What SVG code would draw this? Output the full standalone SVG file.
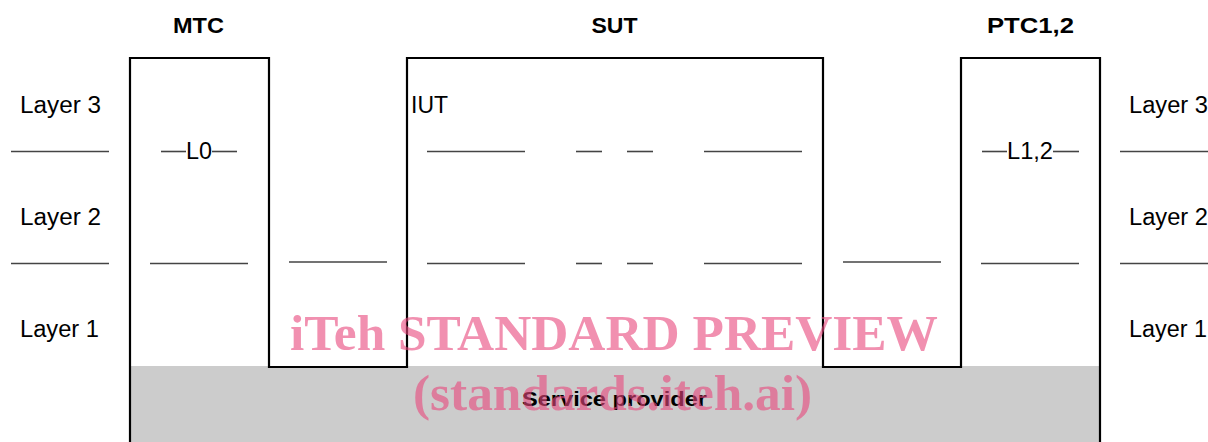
<svg xmlns="http://www.w3.org/2000/svg" width="1208" height="442" viewBox="0 0 1208 442">
<style>
.lbl{font-family:"Liberation Sans",Arial,sans-serif;font-size:23px;fill:#000}
.hdr{font-family:"Liberation Sans",Arial,sans-serif;font-size:22px;font-weight:bold;fill:#000;text-anchor:middle}
.sp{font-family:"Liberation Sans",Arial,sans-serif;font-size:20px;font-weight:bold;fill:#000;text-anchor:middle}
.dl{stroke:#444;stroke-width:1.6;fill:none}
.ol{stroke:#000;stroke-width:2.2;fill:none}
.wm{font-family:"Liberation Serif","Times New Roman",serif;font-weight:bold;fill:#e8467c;fill-opacity:0.6;text-anchor:middle}
</style>
<rect id="service-provider-area" x="130" y="366" width="970" height="76" fill="#cccccc"/>
<g id="profile">
<path class="ol" d="M130,442 V58 H269 V367 H407 V58 H823 V367 H961 V58 H1100 V442"/>
</g>
<g id="headers">
<text class="hdr" x="198.5" y="33" textLength="51" lengthAdjust="spacingAndGlyphs">MTC</text>
<text class="hdr" x="614.5" y="33" textLength="46" lengthAdjust="spacingAndGlyphs">SUT</text>
<text class="hdr" x="1030.5" y="33" textLength="87" lengthAdjust="spacingAndGlyphs">PTC1,2</text>
</g>
<g id="layer-labels">
<text class="lbl" x="20" y="113" textLength="81" lengthAdjust="spacingAndGlyphs">Layer 3</text>
<text class="lbl" x="20" y="225" textLength="81" lengthAdjust="spacingAndGlyphs">Layer 2</text>
<text class="lbl" x="20" y="337" textLength="79" lengthAdjust="spacingAndGlyphs">Layer 1</text>
<text class="lbl" x="1129" y="113" textLength="79" lengthAdjust="spacingAndGlyphs">Layer 3</text>
<text class="lbl" x="1129" y="225" textLength="79" lengthAdjust="spacingAndGlyphs">Layer 2</text>
<text class="lbl" x="1129" y="337" textLength="78" lengthAdjust="spacingAndGlyphs">Layer 1</text>
</g>
<g id="mtc">
<text class="lbl" x="186" y="159" textLength="26" lengthAdjust="spacingAndGlyphs">L0</text>
</g>
<g id="iut">
<text class="lbl" x="411" y="113" textLength="37" lengthAdjust="spacingAndGlyphs">IUT</text>
</g>
<g id="ptc">
<text class="lbl" x="1007" y="159" textLength="46" lengthAdjust="spacingAndGlyphs">L1,2</text>
</g>
<g id="connectors">
<line class="dl" x1="11" y1="151.5" x2="109" y2="151.5"/>
<line class="dl" x1="161" y1="151.5" x2="186" y2="151.5"/>
<line class="dl" x1="212" y1="151.5" x2="237" y2="151.5"/>
<line class="dl" x1="427" y1="151.5" x2="525" y2="151.5"/>
<line class="dl" x1="576" y1="151.5" x2="602" y2="151.5"/>
<line class="dl" x1="627" y1="151.5" x2="653" y2="151.5"/>
<line class="dl" x1="704" y1="151.5" x2="802" y2="151.5"/>
<line class="dl" x1="982" y1="151.5" x2="1007" y2="151.5"/>
<line class="dl" x1="1053" y1="151.5" x2="1079" y2="151.5"/>
<line class="dl" x1="1120" y1="151.5" x2="1208" y2="151.5"/>
<line class="dl" x1="11" y1="263.5" x2="109" y2="263.5"/>
<line class="dl" x1="150" y1="263.5" x2="248" y2="263.5"/>
<line class="dl" x1="289" y1="262" x2="387" y2="262"/>
<line class="dl" x1="427" y1="263.5" x2="525" y2="263.5"/>
<line class="dl" x1="576" y1="263.5" x2="602" y2="263.5"/>
<line class="dl" x1="627" y1="263.5" x2="653" y2="263.5"/>
<line class="dl" x1="704" y1="263.5" x2="802" y2="263.5"/>
<line class="dl" x1="843" y1="262" x2="941" y2="262"/>
<line class="dl" x1="981" y1="263.5" x2="1079" y2="263.5"/>
<line class="dl" x1="1120" y1="263.5" x2="1208" y2="263.5"/>
</g>
<g id="service-provider">
<text class="sp" x="614.5" y="406" textLength="185" lengthAdjust="spacingAndGlyphs">Service provider</text>
</g>
<g id="watermark">
<text class="wm" x="614" y="350" font-size="50" textLength="648" lengthAdjust="spacingAndGlyphs">iTeh STANDARD PREVIEW</text>
<text class="wm" x="612.5" y="410" font-size="50" textLength="399" lengthAdjust="spacingAndGlyphs">(standards.iteh.ai)</text>
</g>
</svg>
